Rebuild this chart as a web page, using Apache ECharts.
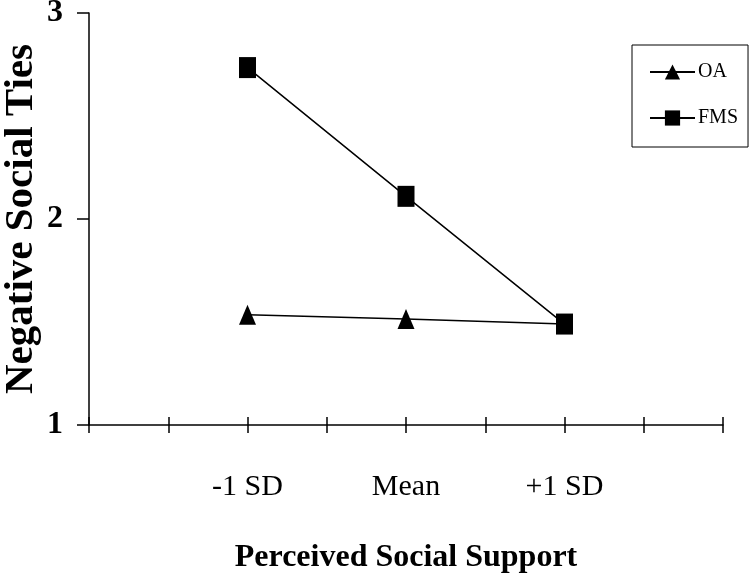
<!DOCTYPE html>
<html>
<head>
<meta charset="utf-8">
<script src="https://cdn.jsdelivr.net/npm/echarts@6/dist/echarts.min.js"></script>
<style>
  html, body { margin: 0; padding: 0; background: #fff; }
  #chart { width: 751px; height: 579px; }
</style>
</head>
<body>
<div id="chart"></div>
<script>
// axis slots: 9 ticks, the three levels sit on slots 2, 4 and 6
const slots = ["", "", "-1 SD", "", "Mean", "", "+1 SD", "", ""];
const levels = ["-1 SD", "Mean", "+1 SD"];
const oaValues = [1.535, 1.515, 1.49];
const fmsValues = [2.735, 2.11, 1.49];
const yTicks = [1, 2, 3];

const font = "Liberation Serif, Times New Roman, serif";

function toSlots(values) {
  return slots.map((name) => {
    const idx = levels.indexOf(name);
    return idx >= 0 ? values[idx] : null;
  });
}

const chart = echarts.init(document.getElementById("chart"));

const tickStyle = { color: "#000", width: 1.5 };

chart.setOption({
  animation: false,
  textStyle: { fontFamily: font, color: "#000" },
  grid: { left: 89, right: 28, top: 13, bottom: 154, containLabel: false, outerBoundsMode: "none" },
  legend: {
    orient: "vertical",
    left: 632,
    top: 45,
    padding: [17, 10, 19, 17],
    itemGap: 26,
    itemWidth: 45,
    itemHeight: 19,
    borderColor: "#000",
    borderWidth: 1,
    borderRadius: 0,
    textStyle: { fontFamily: font, fontSize: 20, color: "#000", padding: [0, 0, 0, -2] },
    data: ["OA", "FMS"],
  },
  xAxis: [
    {
      type: "category",
      data: slots,
      boundaryGap: false,
      axisLine: { lineStyle: tickStyle },
      axisTick: { show: true, interval: 0, length: 8, lineStyle: tickStyle },
      axisLabel: { interval: 0, margin: 47, fontSize: 30, fontFamily: font, color: "#000" },
      name: "Perceived Social Support",
      nameLocation: "middle",
      nameGap: 117,
      nameTextStyle: { fontFamily: font, fontSize: 32, fontWeight: "bold", color: "#000" },
    },
    {
      type: "category",
      data: slots,
      boundaryGap: false,
      position: "bottom",
      axisLine: { show: false },
      axisTick: { show: true, inside: true, interval: 0, length: 8, lineStyle: tickStyle },
      axisLabel: { show: false },
    },
  ],
  yAxis: {
    type: "value",
    min: yTicks[0],
    max: yTicks[yTicks.length - 1],
    interval: 1,
    splitLine: { show: false },
    axisLine: { show: true, lineStyle: tickStyle },
    axisTick: { show: true, length: 12, lineStyle: tickStyle },
    axisLabel: { margin: 26, fontSize: 32, fontWeight: "bold", fontFamily: font, color: "#000" },
    name: "Negative Social Ties",
    nameLocation: "middle",
    nameMoveOverlap: false,
    nameGap: 47,
    nameTextStyle: { fontFamily: font, fontSize: 41, fontWeight: "bold", color: "#000" },
  },
  series: [
    {
      name: "OA",
      type: "line",
      connectNulls: true,
      data: toSlots(oaValues),
      symbol: "triangle",
      symbolSize: [17, 20],
      lineStyle: { color: "#000", width: 1.5 },
      itemStyle: { color: "#000" },
      z: 2,
    },
    {
      name: "FMS",
      type: "line",
      connectNulls: true,
      data: toSlots(fmsValues),
      symbol: "rect",
      symbolSize: [17, 21],
      lineStyle: { color: "#000", width: 1.5 },
      itemStyle: { color: "#000" },
      z: 3,
    },
  ],
});
</script>
</body>
</html>
